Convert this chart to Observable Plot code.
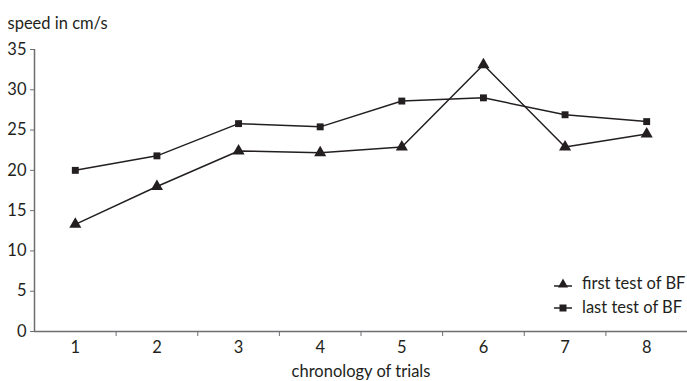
<!DOCTYPE html>
<html>
<head>
<meta charset="utf-8">
<script src="https://cdn.jsdelivr.net/npm/d3@7"></script>
<script src="https://cdn.jsdelivr.net/npm/@observablehq/plot@0.6"></script>
<style>
  body { margin: 0; background: #fff; }
  #wrap { position: relative; width: 687px; height: 381px; font-family: Lato, "Open Sans", sans-serif; }
  #legend { position: absolute; left: 554px; top: 271px; font-size: 16.5px; color: #231f20; line-height: 24px; }
  #legend div { display: flex; align-items: center; }
  #legend svg { margin-right: 10px; }
</style>
</head>
<body>
<div id="wrap"></div>
<script>
const trials = [1, 2, 3, 4, 5, 6, 7, 8];
const firstTest = [13.3, 18.0, 22.4, 22.2, 22.9, 33.1, 22.9, 24.5];
const lastTest = [20.0, 21.8, 25.8, 25.4, 28.6, 29.0, 26.9, 26.05];
const yTicks = [0, 5, 10, 15, 20, 25, 30, 35];
const seriesNames = ["first test of BF", "last test of BF"];

const data = [
  ...trials.map((t, i) => ({trial: t, value: firstTest[i], series: seriesNames[0]})),
  ...trials.map((t, i) => ({trial: t, value: lastTest[i], series: seriesNames[1]}))
];
const ink = "#231f20";
const axisColor = "#6d6e71";
const fs = 16.5;

const chart = Plot.plot({
  width: 687,
  height: 381,
  marginLeft: 34,
  marginRight: 0,
  marginTop: 49,
  marginBottom: 50,
  style: {fontFamily: "Lato, 'Open Sans', sans-serif", fontSize: fs + "px", color: ink, background: "#fff"},
  x: {domain: [0.5, 8.5], axis: null},
  y: {domain: [0, 35], axis: null},
  marks: [
    Plot.axisY({ticks: yTicks, tickSize: 4, tickPadding: 4, stroke: axisColor, fill: ink, label: null, fontSize: fs}),
    Plot.axisX({ticks: trials, tickSize: 0, tickPadding: 10, fill: ink, label: null, fontSize: fs}),
    Plot.axisX({ticks: d3.range(1.5, 8.5, 1), tickSize: 5, tickFormat: () => "", stroke: axisColor, label: null}),
    Plot.ruleY([0], {stroke: axisColor, strokeWidth: 1.5}),
    Plot.ruleX([0.5], {stroke: axisColor, strokeWidth: 1.5}),
    Plot.line(data, {x: "trial", y: "value", z: "series", stroke: ink, strokeWidth: 1.5}),
    Plot.dot(data.filter(d => d.series === seriesNames[0]), {x: "trial", y: "value", symbol: "triangle", r: 4.5, fill: ink, stroke: "none"}),
    Plot.dot(data.filter(d => d.series === seriesNames[1]), {x: "trial", y: "value", symbol: "square", r: 3.9, fill: ink, stroke: "none"}),
    Plot.text(["speed in cm/s"], {frameAnchor: "top-left", dx: -27, dy: -32, textAnchor: "start", fill: ink, fontSize: fs}),
    Plot.text(["chronology of trials"], {frameAnchor: "bottom", dy: 45, fill: ink, fontSize: fs})
  ]
});

const wrap = document.getElementById("wrap");
wrap.appendChild(chart);

const legend = document.createElement("div");
legend.id = "legend";
const sym = {
  [seriesNames[0]]: `<path d="M9,2.5 L14,11.5 L4,11.5 Z" fill="${ink}"/>`,
  [seriesNames[1]]: `<rect x="5.5" y="4.5" width="7" height="7" fill="${ink}"/>`
};
legend.innerHTML = seriesNames.map((name, i) =>
  `<div><svg width="18" height="14" viewBox="0 0 18 14"><line x1="0" x2="18" y1="${i === 0 ? 10 : 8}" y2="${i === 0 ? 10 : 8}" stroke="${ink}" stroke-width="1.5"/>${sym[name]}</svg><span>${name}</span></div>`
).join("");
wrap.appendChild(legend);
</script>
</body>
</html>
